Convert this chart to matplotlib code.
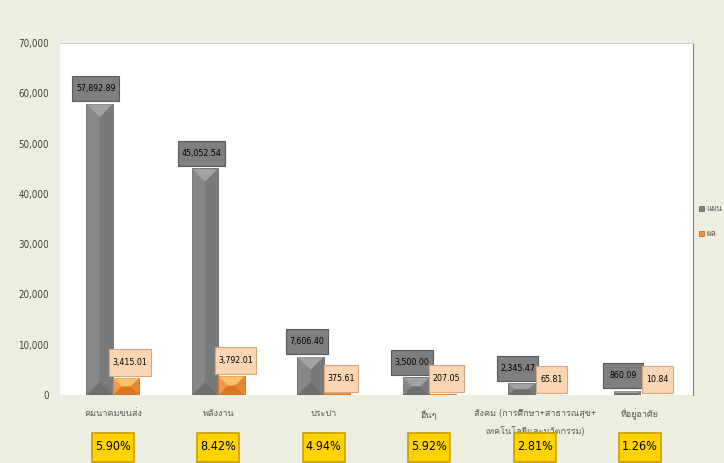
import matplotlib.pyplot as plt
import numpy as np
from matplotlib import font_manager
from matplotlib.ft2font import FT2Font
from matplotlib.font_manager import FontProperties
from matplotlib.patches import Polygon, Rectangle
from matplotlib.ticker import FuncFormatter
import matplotlib.transforms as mtransforms

categories = ['คมนาคมขนส่ง', 'พลังงาน', 'ประปา', 'อื่นๆ',
              'สังคม (การศึกษา+สาธารณสุข+\nเทคโนโลยีและนวัตกรรม)', 'ที่อยู่อาศัย']
plan = [57892.89, 45052.54, 7606.40, 3500.00, 2345.47, 860.09]
actual = [3415.01, 3792.01, 375.61, 207.05, 65.81, 10.84]
percent = ['5.90%', '8.42%', '4.94%', '5.92%', '2.81%', '1.26%']
series_names = ['แผน', 'ผล']


def find_thai_font():
    # look for any installed font that has Thai glyphs
    for f in font_manager.fontManager.ttflist:
        try:
            if 0x0E01 in FT2Font(f.fname).get_charmap():
                return f.name
        except Exception:
            pass
    return None


def find_narrow_font():
    for f in font_manager.fontManager.ttflist:
        n = f.fname.lower()
        if ('narrow' in n or 'condensed' in n) and 'bold' not in n and 'italic' not in n \
                and 'oblique' not in n and 'light' not in n and f.weight in (400, 'normal', 'regular'):
            return f.fname
    return None


thai = find_thai_font()
fams = ['DejaVu Sans']
if thai:
    fams.insert(0, thai)
plt.rcParams['font.family'] = fams
narrow = find_narrow_font()
numfont = FontProperties(fname=narrow) if narrow else FontProperties(family='Liberation Sans')

bg = '#ECEFE0'
fig = plt.figure(figsize=(7.24, 4.63), dpi=100, facecolor=bg)
ax = fig.add_axes([0.083, 0.147, 0.874, 0.76])
renderer = fig.canvas.get_renderer()

x = np.arange(len(categories))
w = 0.25
b1 = ax.bar(x - w / 2, plan, w, color='#808080', edgecolor='#666666', linewidth=0.6)
b2 = ax.bar(x + w / 2, actual, w, color='#f0913a', edgecolor='#c86a1e', linewidth=0.6)

ax.set_xlim(-0.5, len(categories) - 0.5)
ax.set_ylim(0, 70000)

# bevel faces on each bar, built in pixels then mapped back to data
inv = ax.transData.inverted()
shades = [('#a2a2a2', '#878787', '#7a7a7a', '#6e6e6e'),
          ('#f9c070', '#f29844', '#e8862f', '#dc7522')]
for bars, (c_top, c_left, c_right, c_bot) in zip([b1, b2], shades):
    for r in bars:
        (x0, y0), (x1, y1) = ax.transData.transform(
            [(r.get_x(), 0), (r.get_x() + r.get_width(), r.get_height())])
        x0, x1, y1 = x0 + 0.5, x1 - 0.5, y1 - 0.5
        d = min((x1 - x0) / 2, (y1 - y0) / 2)
        faces = [
            (c_left, [(x0, y0), (x0 + d, y0 + d), (x0 + d, y1 - d), (x0, y1)]),
            (c_right, [(x1, y0), (x1 - d, y0 + d), (x1 - d, y1 - d), (x1, y1)]),
            (c_top, [(x0, y1), (x1, y1), (x1 - d, y1 - d), (x0 + d, y1 - d)]),
            (c_bot, [(x0, y0), (x1, y0), (x1 - d, y0 + d), (x0 + d, y0 + d)]),
        ]
        for c, pts in faces:
            ax.add_patch(Polygon(inv.transform(pts), closed=True, fc=c, ec='none', zorder=2.1))


def label_box(xd, yd, text, dx, dy, bw, bh, fc, ec, size):
    # box of pixel size, offset (pixels) from a data point; widened to fit the text
    tr = fig.dpi_scale_trans + mtransforms.ScaledTranslation(xd, yd, ax.transData)
    t = ax.text(dx / 100, dy / 100, text, transform=tr, ha='center', va='center',
                fontproperties=numfont, fontsize=size, color='black', zorder=5, clip_on=False)
    bw = max(bw, t.get_window_extent(renderer).width + 7)
    ax.add_patch(Rectangle(((dx - bw / 2) / 100, (dy - bh / 2) / 100), bw / 100, bh / 100,
                           transform=tr, fc=fc, ec=ec, lw=0.8, zorder=4, clip_on=False))


for xi, v in zip(x, plan):
    label_box(xi - w / 2, v, f'{v:,.2f}', -4, 15, 40, 25, '#7f7f7f', '#5a5a5a', 6.3)
for xi, v in zip(x, actual):
    label_box(xi + w / 2, v, f'{v:,.2f}', 4, 15, 31, 27, '#fcd5b4', '#d9a77c', 6.3)

ax.set_yticks(range(0, 70001, 10000))
ax.yaxis.set_major_formatter(FuncFormatter(lambda v, p: f'{v:,.0f}'))
ax.tick_params(axis='y', length=0, labelcolor='#404040', pad=8)
for t in ax.get_yticklabels():
    t.set_fontproperties(numfont)
    t.set_fontsize(7)
ax.set_xticks(x)
ax.set_xticklabels(categories, fontsize=6.5, color='#595959', linespacing=2.0)
ax.tick_params(axis='x', length=0, pad=10)
for s in ['left', 'bottom']:
    ax.spines[s].set_visible(False)
ax.spines['top'].set_color('#d0d0d0')
ax.spines['right'].set_color('#808080')

tr_pct = mtransforms.blended_transform_factory(ax.transData, fig.transFigure)
for xi, p in zip(x, percent):
    t = ax.text(xi, 1 - 447 / 463, p, transform=tr_pct, ha='center', va='center',
                fontproperties=numfont, fontsize=9, color='black', zorder=5, clip_on=False)
    bw = max(34, t.get_window_extent(renderer).width + 6) / 105.5
    ax.add_patch(Rectangle((xi - bw / 2, 1 - 462 / 463), bw, 29 / 463, transform=tr_pct,
                           fc='#ffd200', ec='#c9a000', lw=1.2, clip_on=False, zorder=4))

fig.legend([b1, b2], series_names, loc='center left', bbox_to_anchor=(0.958, 0.522),
           frameon=False, fontsize=6, handlelength=0.6, handleheight=0.6,
           handletextpad=0.25, labelspacing=1.9, labelcolor='#595959', borderpad=0.2)

fig.savefig('out.png', dpi=100, facecolor=bg)
